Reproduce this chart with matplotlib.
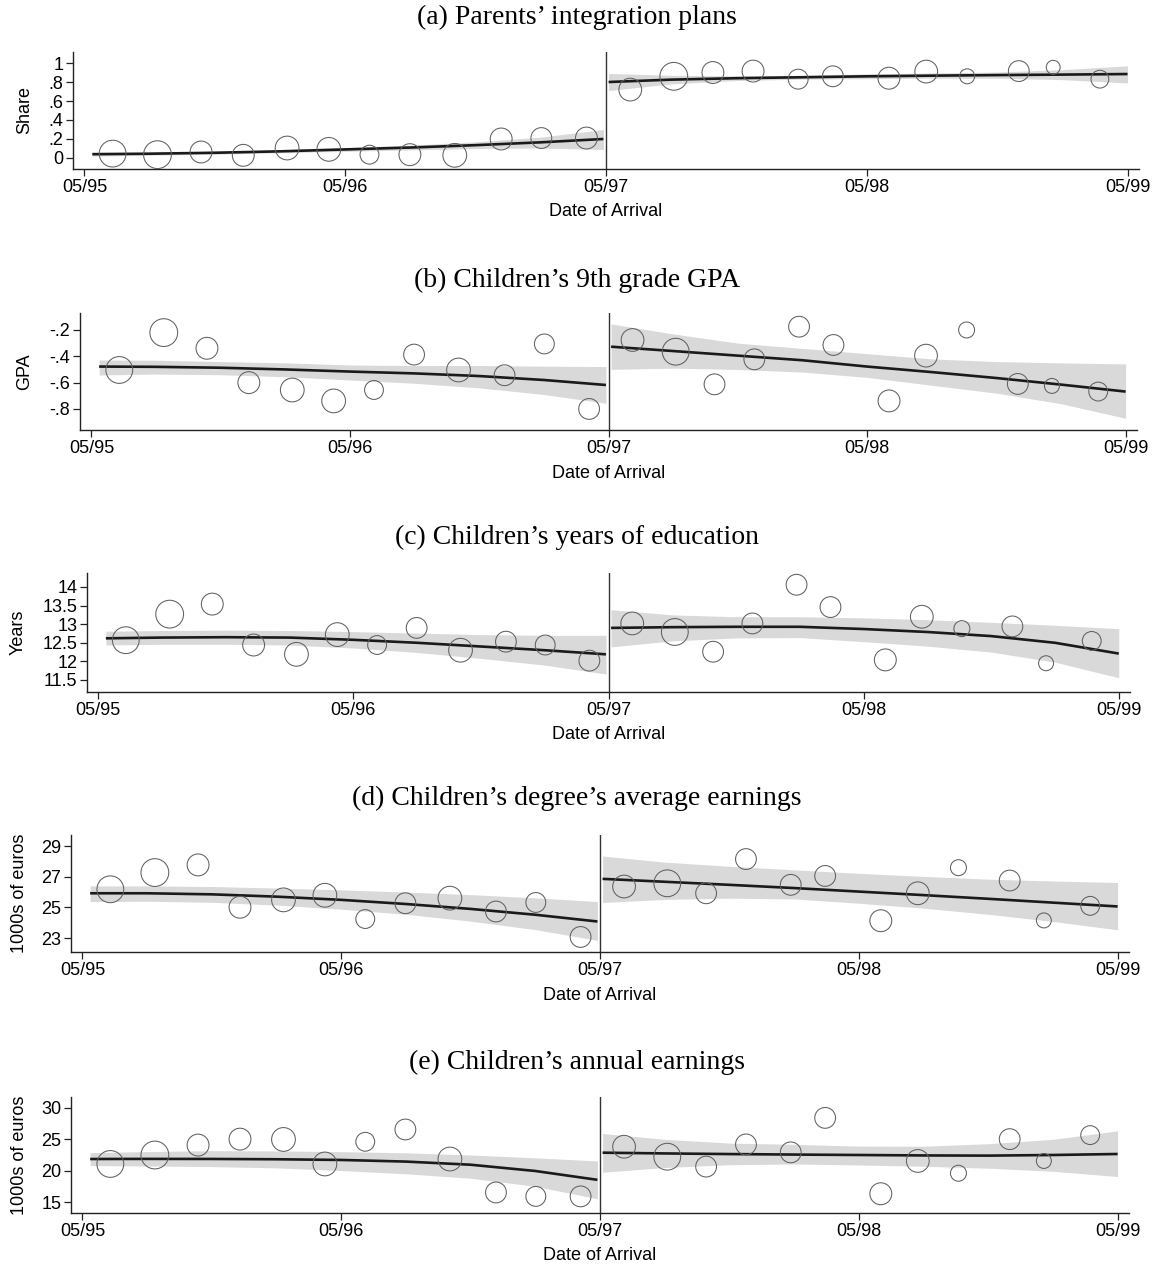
import numpy as np
import matplotlib
matplotlib.use("Agg")
import matplotlib.pyplot as plt

# arrival bins, in years since May 1995
bin_pre = [0.108, 0.280, 0.447, 0.609, 0.777, 0.937, 1.093, 1.248, 1.420, 1.598, 1.752, 1.925]
bin_post = [2.093, 2.260, 2.410, 2.564, 2.737, 2.870, 3.085, 3.228, 3.385, 3.583, 3.715, 3.894]

# number of families per bin (marker area)
n_pre_parents = [93, 100, 62, 62, 73, 73, 46, 62, 73, 62, 56, 62]
n_post_parents = [67, 100, 62, 62, 51, 56, 62, 67, 29, 56, 25, 41]
n_pre_kids = [93, 100, 62, 62, 73, 73, 46, 56, 73, 56, 51, 56]
n_post_kids = [67, 93, 56, 56, 56, 56, 62, 67, 33, 56, 29, 46]

# bin means
integ_pre = [0.046, 0.035, 0.063, 0.028, 0.105, 0.091, 0.035, 0.035, 0.028, 0.20, 0.21, 0.21]
integ_post = [0.72, 0.86, 0.90, 0.915, 0.83, 0.86, 0.84, 0.91, 0.86, 0.915, 0.955, 0.83]
gpa_pre = [-0.504, -0.22, -0.339, -0.60, -0.656, -0.739, -0.656, -0.387, -0.504, -0.544, -0.306, -0.80]
gpa_post = [-0.276, -0.365, -0.613, -0.423, -0.175, -0.314, -0.739, -0.395, -0.20, -0.61, -0.625, -0.668]
educ_pre = [12.57, 13.27, 13.54, 12.44, 12.19, 12.72, 12.44, 12.90, 12.30, 12.53, 12.44, 12.02]
educ_post = [13.02, 12.79, 12.26, 13.02, 14.06, 13.46, 12.04, 13.20, 12.88, 12.94, 11.95, 12.55]
degree_pre = [26.18, 27.27, 27.77, 25.01, 25.49, 25.79, 24.24, 25.27, 25.60, 24.73, 25.32, 23.07]
degree_post = [26.36, 26.57, 25.92, 28.15, 26.47, 27.05, 24.13, 25.92, 27.59, 26.75, 24.15, 25.10]
earn_pre = [21.07, 22.50, 24.08, 25.03, 24.98, 21.07, 24.61, 26.57, 21.86, 16.53, 15.90, 15.90]
earn_post = [23.82, 22.23, 20.65, 24.19, 22.92, 28.42, 16.32, 21.55, 19.59, 25.03, 21.55, 25.67]

# fitted polynomial and 95% band on each side of the cutoff
fit_x_pre = [0.03, 0.25, 0.50, 0.75, 1.00, 1.25, 1.50, 1.75, 1.99]
fit_x_post = [2.01, 2.25, 2.50, 2.75, 3.00, 3.25, 3.50, 3.75, 4.00]

integ_fit_pre = [0.040, 0.045, 0.055, 0.070, 0.090, 0.110, 0.135, 0.165, 0.200]
integ_lo_pre = [0.020, 0.030, 0.040, 0.055, 0.070, 0.085, 0.100, 0.105, 0.090]
integ_hi_pre = [0.060, 0.060, 0.070, 0.085, 0.110, 0.135, 0.170, 0.220, 0.300]
integ_fit_post = [0.800, 0.825, 0.840, 0.850, 0.860, 0.867, 0.873, 0.878, 0.884]
integ_lo_post = [0.710, 0.780, 0.815, 0.830, 0.835, 0.840, 0.840, 0.825, 0.790]
integ_hi_post = [0.890, 0.870, 0.865, 0.870, 0.885, 0.895, 0.905, 0.930, 0.970]

gpa_fit_pre = [-0.478, -0.480, -0.487, -0.500, -0.516, -0.530, -0.550, -0.580, -0.618]
gpa_lo_pre = [-0.542, -0.535, -0.540, -0.555, -0.580, -0.605, -0.640, -0.690, -0.757]
gpa_hi_pre = [-0.428, -0.430, -0.440, -0.450, -0.466, -0.470, -0.470, -0.475, -0.478]
gpa_fit_post = [-0.327, -0.360, -0.395, -0.430, -0.478, -0.520, -0.565, -0.615, -0.668]
gpa_lo_post = [-0.499, -0.490, -0.500, -0.520, -0.560, -0.620, -0.680, -0.760, -0.871]
gpa_hi_post = [-0.154, -0.230, -0.300, -0.340, -0.380, -0.420, -0.440, -0.450, -0.458]

educ_fit_pre = [12.62, 12.64, 12.65, 12.64, 12.58, 12.50, 12.40, 12.30, 12.19]
educ_lo_pre = [12.44, 12.46, 12.46, 12.44, 12.36, 12.24, 12.08, 11.90, 11.66]
educ_hi_pre = [12.81, 12.83, 12.84, 12.83, 12.80, 12.76, 12.72, 12.70, 12.70]
educ_fit_post = [12.90, 12.92, 12.93, 12.93, 12.87, 12.79, 12.68, 12.50, 12.21]
educ_lo_post = [12.39, 12.55, 12.63, 12.64, 12.53, 12.41, 12.25, 11.98, 11.56]
educ_hi_post = [13.39, 13.25, 13.20, 13.20, 13.17, 13.12, 13.05, 12.97, 12.88]

degree_fit_pre = [25.92, 25.92, 25.85, 25.70, 25.49, 25.22, 24.90, 24.52, 24.08]
degree_lo_pre = [25.38, 25.40, 25.33, 25.15, 24.88, 24.55, 24.10, 23.55, 22.85]
degree_hi_pre = [26.40, 26.40, 26.36, 26.26, 26.14, 26.00, 25.83, 25.62, 25.38]
degree_fit_post = [26.86, 26.67, 26.47, 26.26, 26.03, 25.80, 25.56, 25.31, 25.06]
degree_lo_post = [25.32, 25.52, 25.60, 25.55, 25.27, 24.95, 24.55, 24.08, 23.54]
degree_hi_post = [28.35, 27.95, 27.68, 27.45, 27.22, 27.02, 26.84, 26.72, 26.62]

earn_fit_pre = [21.86, 21.88, 21.87, 21.82, 21.71, 21.45, 20.95, 19.95, 18.54]
earn_lo_pre = [20.81, 20.75, 20.65, 20.45, 20.02, 19.50, 18.80, 17.50, 15.53]
earn_hi_pre = [22.87, 23.05, 23.19, 23.15, 23.03, 22.85, 22.50, 22.05, 21.55]
earn_fit_post = [22.87, 22.75, 22.65, 22.57, 22.50, 22.43, 22.40, 22.50, 22.66]
earn_lo_post = [19.75, 20.50, 20.95, 21.07, 20.91, 20.70, 20.40, 19.90, 19.07]
earn_hi_post = [25.93, 25.00, 24.40, 24.20, 23.92, 23.90, 24.30, 25.00, 26.35]

date_ticks = [0, 1, 2, 3, 4]
date_labels = ["05/95", "05/96", "05/97", "05/98", "05/99"]

W, H = 1154, 1268
SANS = "Liberation Sans"
SERIF = "Liberation Serif"
FS = 13

fig = plt.figure(figsize=(W / 100, H / 100), dpi=100)


def panel(box, title, title_y, ylabel, ylabel_x, ylim, yticks, yticklabels,
          pre, post, n_pre, n_post, fit_pre, lo_pre, hi_pre, fit_post, lo_post, hi_post):
    left, top, right, bottom = box
    ax = fig.add_axes([left / W, 1 - bottom / H, (right - left) / W, (bottom - top) / H])

    for fx, fit, lo, hi in [(fit_x_pre, fit_pre, lo_pre, hi_pre),
                            (fit_x_post, fit_post, lo_post, hi_post)]:
        ax.fill_between(fx, lo, hi, color="#d9d9d9", lw=0, zorder=1)
        ax.plot(fx, fit, color="#1a1a1a", lw=1.9, zorder=3, solid_capstyle="butt",
                solid_joinstyle="round")

    for bx, vals, n in [(bin_pre, pre, n_pre), (bin_post, post, n_post)]:
        ax.scatter(bx, vals, s=np.array(n) * 4.0, facecolors="none",
                   edgecolors="#606060", linewidths=0.75, zorder=4)

    ax.axvline(2, color="#333333", lw=1.0, zorder=2)

    ax.set_xlim(-0.044, 4.044)
    ax.set_ylim(*ylim)
    ax.set_xticks(date_ticks)
    ax.set_xticklabels(date_labels, fontfamily=SANS, fontsize=FS)
    ax.set_yticks(yticks)
    ax.set_yticklabels(yticklabels, fontfamily=SANS, fontsize=FS)
    ax.tick_params(direction="out", length=5, width=0.9, color="#222222", pad=2)
    for side in ["top", "right"]:
        ax.spines[side].set_visible(False)
    for side in ["left", "bottom"]:
        ax.spines[side].set_linewidth(1.0)
        ax.spines[side].set_color("#222222")

    fig.text(0.5, 1 - title_y / H, title, ha="center", va="center",
             fontfamily=SERIF, fontsize=20)
    fig.text(ylabel_x / W, 1 - (top + bottom) / 2 / H, ylabel, rotation=90,
             ha="center", va="center", fontfamily=SANS, fontsize=FS)
    fig.text((left + right) / 2 / W, 1 - (bottom + 43) / H, "Date of Arrival",
             ha="center", va="center", fontfamily=SANS, fontsize=FS)
    return ax


panel((73, 52, 1139, 169), "(a) Parents\u2019 integration plans", 17, "Share", 25,
      (-0.116, 1.116), [0, 0.2, 0.4, 0.6, 0.8, 1], ["0", ".2", ".4", ".6", ".8", "1"],
      integ_pre, integ_post, n_pre_parents, n_post_parents,
      integ_fit_pre, integ_lo_pre, integ_hi_pre, integ_fit_post, integ_lo_post, integ_hi_post)

panel((80, 313, 1137, 430), "(b) Children\u2019s 9th grade GPA", 280, "GPA", 25,
      (-0.96, -0.071), [-0.8, -0.6, -0.4, -0.2], ["-.8", "-.6", "-.4", "-.2"],
      gpa_pre, gpa_post, n_pre_kids, n_post_kids,
      gpa_fit_pre, gpa_lo_pre, gpa_hi_pre, gpa_fit_post, gpa_lo_post, gpa_hi_post)

panel((87, 573, 1130, 692), "(c) Children\u2019s years of education", 537, "Years", 18,
      (11.177, 14.376), [11.5, 12, 12.5, 13, 13.5, 14], ["11.5", "12", "12.5", "13", "13.5", "14"],
      educ_pre, educ_post, n_pre_kids, n_post_kids,
      educ_fit_pre, educ_lo_pre, educ_hi_pre, educ_fit_post, educ_lo_post, educ_hi_post)

panel((71, 835, 1129, 952), "(d) Children\u2019s degree\u2019s average earnings", 798,
      "1000s of euros", 20,
      (22.09, 29.72), [23, 25, 27, 29], ["23", "25", "27", "29"],
      degree_pre, degree_post, n_pre_kids, n_post_kids,
      degree_fit_pre, degree_lo_pre, degree_hi_pre, degree_fit_post, degree_lo_post, degree_hi_post)

panel((71, 1097, 1129, 1213), "(e) Children\u2019s annual earnings", 1062,
      "1000s of euros", 20,
      (13.25, 31.75), [15, 20, 25, 30], ["15", "20", "25", "30"],
      earn_pre, earn_post, n_pre_kids, n_post_kids,
      earn_fit_pre, earn_lo_pre, earn_hi_pre, earn_fit_post, earn_lo_post, earn_hi_post)

fig.savefig("out.png", dpi=100)
